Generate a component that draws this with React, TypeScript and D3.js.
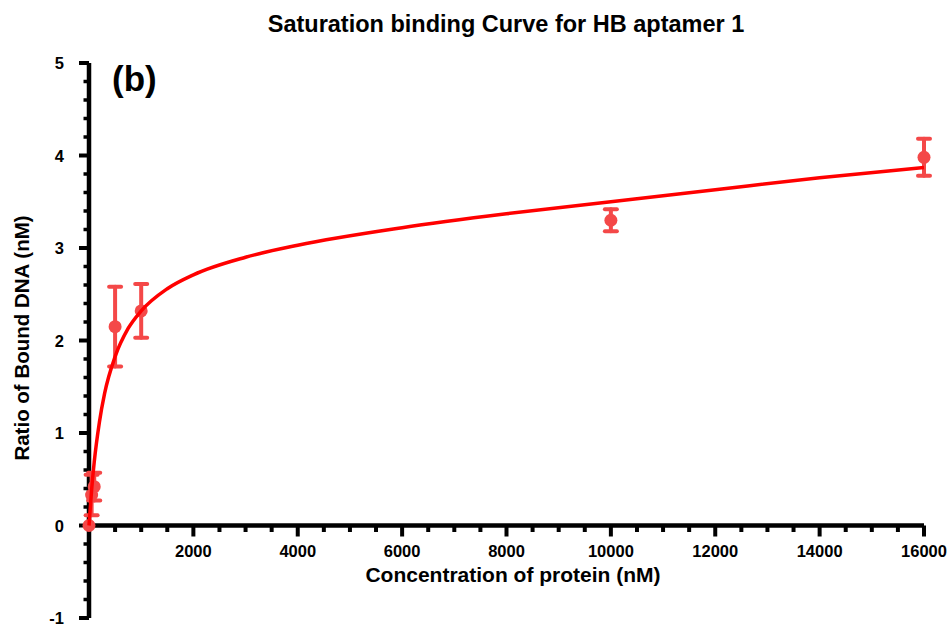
import React from "react";
import * as d3 from "d3";

const concentrations = [0, 50, 100, 500, 1000, 10000, 16000];
const ratios = [0, 0.33, 0.42, 2.15, 2.32, 3.3, 3.98];
const errors = [0, 0.22, 0.15, 0.43, 0.29, 0.12, 0.2];

const fitX = [0, 50, 100, 200, 300, 500, 750, 1000, 1500, 2000, 3000, 4000, 6000, 8000, 10000, 12000, 14000, 16000];
const fitY = [0, 0.385, 0.685, 1.12, 1.43, 1.825, 2.13, 2.32, 2.56, 2.71, 2.9, 3.03, 3.22, 3.37, 3.5, 3.63, 3.76, 3.87];

const xMajorTicks = [2000, 4000, 6000, 8000, 10000, 12000, 14000, 16000];
const yMajorTicks = [-1, 0, 1, 2, 3, 4, 5];

const W = 951;
const H = 624;
const FONT = "'Liberation Sans', Arial, sans-serif";
const RED_PT = "#f44848";
const RED_LINE = "#ff0000";

export default function App() {
  const x = d3.scaleLinear().domain([0, 16000]).range([89, 924]);
  const y = d3.scaleLinear().domain([-1, 5]).range([618, 63]);

  const xMinor = d3.range(500, 16001, 500).filter((v) => v % 2000 !== 0);
  const yMinor = d3
    .range(-1, 5.0001, 0.2)
    .map((v) => Math.round(v * 10) / 10)
    .filter((v) => Math.abs(v - Math.round(v)) > 1e-6);

  const line = d3
    .line<number>()
    .x((_, i) => x(fitX[i]))
    .y((d) => y(d))
    .curve(d3.curveMonotoneX);

  return (
    <svg width={W} height={H} style={{ position: "absolute", left: 0, top: 0, background: "#fff" }}>
      <rect x={0} y={0} width={W} height={H} fill="#fff" />
      <text x={506} y={32} textAnchor="middle" fontFamily={FONT} fontWeight="bold" fontSize={23.5}>
        Saturation binding Curve for HB aptamer 1
      </text>

      {/* x axis */}
      <line x1={x(0)} x2={x(16000)} y1={y(0)} y2={y(0)} stroke="#000" strokeWidth={4.5} />
      {xMajorTicks.map((t) => (
        <g key={"xM" + t}>
          <line x1={x(t)} x2={x(t)} y1={y(0)} y2={y(0) + 11} stroke="#000" strokeWidth={4} />
          <text x={x(t)} y={557} textAnchor="middle" fontFamily={FONT} fontWeight="bold" fontSize={16.5}>
            {t}
          </text>
        </g>
      ))}
      {xMinor.map((t) => (
        <line key={"xm" + t} x1={x(t)} x2={x(t)} y1={y(0)} y2={y(0) + 6.5} stroke="#000" strokeWidth={4} />
      ))}

      {/* y axis */}
      <line x1={x(0)} x2={x(0)} y1={y(-1)} y2={y(5)} stroke="#000" strokeWidth={4.5} />
      {yMajorTicks.map((t) => (
        <g key={"yM" + t}>
          <line x1={x(0)} x2={x(0) - 10} y1={y(t)} y2={y(t)} stroke="#000" strokeWidth={4} />
          <text x={64} y={y(t) + 6} textAnchor="end" fontFamily={FONT} fontWeight="bold" fontSize={16.5}>
            {t}
          </text>
        </g>
      ))}
      {yMinor.map((t) => (
        <line key={"ym" + t} x1={x(0)} x2={x(0) - 5.5} y1={y(t)} y2={y(t)} stroke="#000" strokeWidth={3.5} />
      ))}

      <text
        transform="translate(29,338) rotate(-90)"
        textAnchor="middle"
        fontFamily={FONT}
        fontWeight="bold"
        fontSize={20.5}
      >
        Ratio of Bound DNA (nM)
      </text>
      <text x={513} y={582} textAnchor="middle" fontFamily={FONT} fontWeight="bold" fontSize={21}>
        Concentration of protein (nM)
      </text>

      <text x={112} y={91} fontFamily={FONT} fontWeight="bold" fontSize={35}>
        (b)
      </text>

      {/* error bars and points */}
      {concentrations.map((c, i) => {
        const cx = x(c);
        const e = errors[i];
        if (e <= 0) return null;
        const top = y(ratios[i] + e);
        const bot = y(ratios[i] - e);
        return (
          <g key={"e" + i} stroke={RED_PT} strokeWidth={4} strokeLinecap="round">
            <line x1={cx} x2={cx} y1={top} y2={bot} />
            <line x1={cx - 6} x2={cx + 6} y1={top} y2={top} />
            <line x1={cx - 6} x2={cx + 6} y1={bot} y2={bot} />
          </g>
        );
      })}
      {concentrations.map((c, i) => (
        <circle key={"p" + i} cx={x(c)} cy={y(ratios[i])} r={6.5} fill={RED_PT} />
      ))}

      <path d={line(fitY) || ""} fill="none" stroke={RED_LINE} strokeWidth={3.5} />
    </svg>
  );
}
